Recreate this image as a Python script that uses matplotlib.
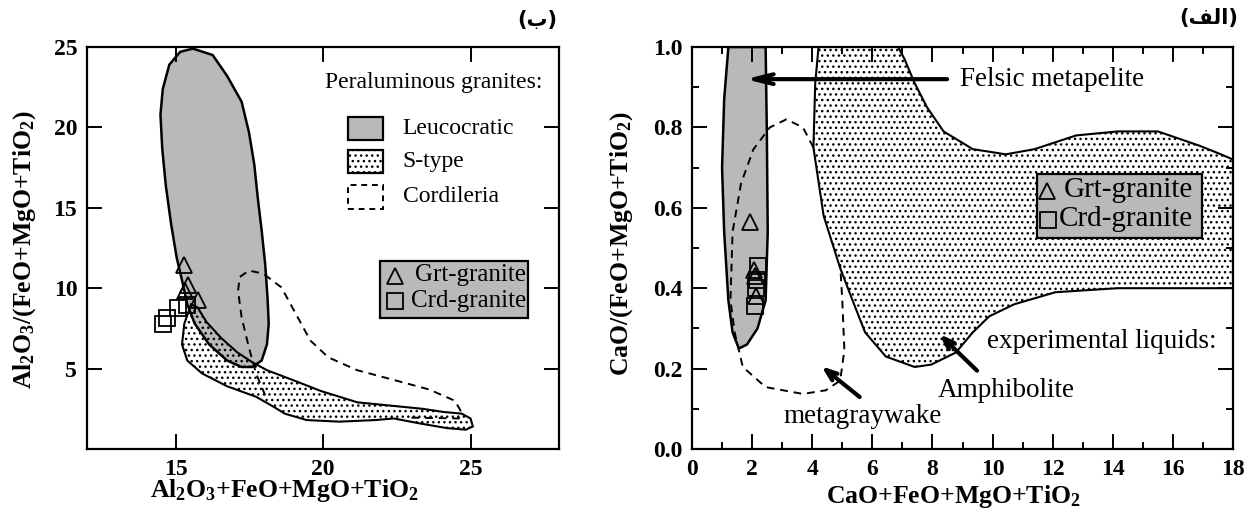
import numpy as np
import matplotlib
matplotlib.use('Agg')
from matplotlib import pyplot as plt
from matplotlib.patches import Polygon, Rectangle

plt.rcParams['font.family'] = ['Liberation Serif', 'DejaVu Sans']
plt.rcParams['mathtext.fontset'] = 'custom'
plt.rcParams['mathtext.rm'] = 'Liberation Serif:bold'
plt.rcParams['mathtext.bf'] = 'Liberation Serif:bold'
plt.rcParams['mathtext.it'] = 'Liberation Serif:bold'
plt.rcParams['hatch.linewidth'] = 1.0

GRAY = '#b9b9b9'

# ---------- panel (b): Al2O3 ----------
leuco_x = [15.59,16.26,16.75,17.24,17.49,17.67,17.79,17.92,18.04,18.12,18.16,18.10,17.92,17.60,17.24,16.75,16.14,15.65,15.40,15.22,15.04,14.85,14.67,14.55,14.49,14.57,14.79,15.16]
leuco_y = [24.9,24.5,23.2,21.6,19.7,17.7,15.6,13.6,11.5,9.4,7.8,6.5,5.5,5.1,5.1,5.5,6.5,7.8,9.0,10.5,11.9,14.0,16.4,18.7,20.8,22.4,23.9,24.7]

stype_x = [15.53,15.30,15.22,15.40,15.90,16.75,17.73,18.35,18.70,19.45,20.55,21.78,22.40,23.25,24.20,24.84,25.08,25.00,24.70,24.10,23.37,22.28,21.17,19.94,18.96,18.10,17.60,17.10,16.55,16.05,15.75]
stype_y = [9.0,7.8,6.5,5.5,4.7,3.9,3.25,2.6,2.2,1.8,1.7,1.8,1.9,1.6,1.3,1.2,1.4,1.9,2.2,2.3,2.5,2.7,2.9,3.6,4.3,4.9,5.4,6.0,6.9,7.9,8.8]

cord_x = [23.0,24.60,24.66,24.47,23.60,22.39,21.16,20.18,19.57,19.08,18.59,17.98,17.49,17.18,17.12,17.24,17.49,17.73,18.05]
cord_y = [1.95,1.9,2.4,3.0,3.7,4.3,4.9,5.7,6.75,8.4,10.05,10.9,11.1,10.7,9.85,8.2,6.3,4.7,3.3]

grt_b_x = [15.29,15.43,15.33,15.77]
grt_b_y = [11.44,10.2,9.8,9.27]
crd_b_x = [15.10,15.38,14.72,14.59]
crd_b_y = [8.75,8.95,8.13,7.75]

# ---------- panel (alef): CaO ----------
felsic_x = [1.21,1.07,1.00,1.07,1.21,1.35,1.56,1.83,2.18,2.45,2.52,2.49,2.45]
felsic_y = [1.0,0.87,0.70,0.54,0.37,0.29,0.25,0.26,0.30,0.37,0.54,0.79,1.0]

amph_x = [4.21,4.10,4.04,4.38,4.93,5.34,5.76,6.45,7.41,7.96,8.78,9.34,9.89,10.72,12.09,14.16,16.23,18.0,18.0,17.6,16.9,15.5,14.16,12.78,11.4,10.44,9.34,8.37,7.82,7.41,7.07,6.86]
amph_y = [1.0,0.91,0.75,0.58,0.45,0.37,0.29,0.23,0.204,0.21,0.24,0.29,0.33,0.36,0.39,0.40,0.40,0.40,0.72,0.733,0.754,0.79,0.79,0.78,0.746,0.733,0.746,0.79,0.85,0.91,0.97,1.0]

meta_x = [4.04,3.69,3.14,2.59,2.04,1.63,1.35,1.28,1.42,1.69,2.45,3.69,4.45,4.93,5.07,5.00,4.93]
meta_y = [0.75,0.80,0.82,0.80,0.745,0.66,0.54,0.37,0.29,0.204,0.154,0.137,0.146,0.17,0.246,0.37,0.46]

grt_a_x = [1.93,2.07,2.10,2.13]
grt_a_y = [0.565,0.445,0.43,0.38]
crd_a_x = [2.21,2.15,2.12,2.08]
crd_a_y = [0.455,0.42,0.40,0.355]

FS_L = 17      # text size, left panel
FS_R = 19.5    # text size, right panel

fig = plt.figure(figsize=(12.46, 5.17), dpi=100)
ax1 = fig.add_axes([87/1246, 1-449/517, 472/1246, 402/517])
ax2 = fig.add_axes([692/1246, 1-449/517, 541/1246, 402/517])

for ax in (ax1, ax2):
    for s in ax.spines.values():
        s.set_linewidth(1.6)
    ax.tick_params(which='both', direction='in', top=True, right=True,
                   width=1.4, labelsize=17, pad=7)
    ax.tick_params(which='major', length=11)
    ax.tick_params(which='minor', length=5)

mk = dict(linestyle='none', markerfacecolor='none', markeredgecolor='black',
          markeredgewidth=1.3, markersize=11, zorder=6)

# panel b
ax1.add_patch(Polygon(np.c_[leuco_x, leuco_y], closed=True, facecolor=GRAY,
                      edgecolor='none', zorder=1))
ax1.add_patch(Polygon(np.c_[stype_x, stype_y], closed=True, facecolor='none',
                      edgecolor='black', hatch='...', lw=1.5, zorder=2))
ax1.add_patch(Polygon(np.c_[leuco_x, leuco_y], closed=True, facecolor='none',
                      edgecolor='black', lw=1.8, zorder=3))
ax1.plot(cord_x, cord_y, color='black', lw=1.4, dashes=(4, 3), zorder=3)
ax1.plot(grt_b_x, grt_b_y, marker='^', **mk)
ax1.plot(crd_b_x, crd_b_y, marker='s', **mk)

ax1.text(20.06, 22.8, 'Peraluminous granites:', fontsize=FS_L, va='center')
ax1.add_patch(Rectangle((20.86, 19.23), 1.19, 1.44, facecolor=GRAY,
                        edgecolor='black', lw=1.6, zorder=5))
ax1.add_patch(Rectangle((20.86, 17.16), 1.19, 1.44, facecolor='white',
                        edgecolor='black', hatch='...', lw=1.6, zorder=5))
ax1.add_patch(Rectangle((20.86, 14.9), 1.19, 1.54, facecolor='none',
                        edgecolor='black', ls=(0, (3, 2.5)), lw=1.4, zorder=5))
ax1.text(22.7, 19.95, 'Leucocratic', fontsize=FS_L, va='center')
ax1.text(22.7, 17.9, 'S-type', fontsize=FS_L, va='center')
ax1.text(22.7, 15.7, 'Cordileria', fontsize=FS_L, va='center')

ax1.add_patch(Rectangle((21.94, 8.15), 5.01, 3.55, facecolor=GRAY,
                        edgecolor='black', lw=1.6, zorder=5))
ax1.plot([22.45], [10.77], marker='^', **mk)
ax1.plot([22.45], [9.19], marker='s', **mk)
ax1.text(23.12, 10.8, 'Grt-granite', fontsize=18, va='center', zorder=7)
ax1.text(23.0, 9.2, 'Crd-granite', fontsize=18, va='center', zorder=7)

ax1.set_xlim(12, 28)
ax1.set_ylim(0, 25)
ax1.set_xticks([15, 20, 25])
ax1.set_yticks([5, 10, 15, 20, 25])

# panel alef
ax2.add_patch(Polygon(np.c_[felsic_x, felsic_y], closed=True, facecolor=GRAY,
                      edgecolor='black', lw=1.8, zorder=1))
ax2.add_patch(Polygon(np.c_[amph_x, amph_y], closed=True, facecolor='none',
                      edgecolor='black', hatch='...', lw=1.5, zorder=2))
ax2.plot(meta_x, meta_y, color='black', lw=1.4, dashes=(4, 3), zorder=3)
ax2.plot(grt_a_x, grt_a_y, marker='^', **mk)
ax2.plot(crd_a_x, crd_a_y, marker='s', **mk)

ax2.annotate('', xy=(1.69, 0.92), xytext=(8.58, 0.92),
             arrowprops=dict(arrowstyle='->,head_length=1.4,head_width=0.35',
                             lw=3, color='black'), zorder=7)
ax2.text(8.93, 0.92, 'Felsic metapelite', fontsize=FS_R, va='center')
ax2.annotate('', xy=(8.17, 0.29), xytext=(9.55, 0.19),
             arrowprops=dict(arrowstyle='->,head_length=0.8,head_width=0.3',
                             lw=3, color='black'), zorder=7)
ax2.text(9.82, 0.267, 'experimental liquids:', fontsize=FS_R, va='center')
ax2.text(10.44, 0.146, 'Amphibolite', fontsize=FS_R, va='center', ha='center')
ax2.annotate('', xy=(4.24, 0.21), xytext=(5.65, 0.125),
             arrowprops=dict(arrowstyle='->,head_length=0.8,head_width=0.3',
                             lw=3, color='black'), zorder=7)
ax2.text(5.69, 0.08, 'metagraywake', fontsize=FS_R, va='center', ha='center')

ax2.add_patch(Rectangle((11.47, 0.525), 5.51, 0.158, facecolor=GRAY,
                        edgecolor='black', lw=1.6, zorder=5))
ax2.plot([11.82], [0.642], marker='^', **mk)
ax2.plot([11.85], [0.57], marker='s', **mk)
ax2.text(12.38, 0.645, 'Grt-granite', fontsize=21, va='center', zorder=7)
ax2.text(12.2, 0.572, 'Crd-granite', fontsize=21, va='center', zorder=7)

ax2.set_xlim(0, 18)
ax2.set_ylim(0, 1)
ax2.set_xticks(np.arange(0, 19, 2))
ax2.set_xticks(np.arange(0, 19, 1), minor=True)
ax2.set_yticks(np.arange(0, 1.01, 0.2))
ax2.set_yticks(np.arange(0, 1.01, 0.1), minor=True)
ax2.set_yticklabels(['%.1f' % v for v in np.arange(0, 1.01, 0.2)])

for ax in (ax1, ax2):
    for lab in ax.get_xticklabels() + ax.get_yticklabels():
        lab.set_fontweight('bold')

# axis titles
fig.text(284/1246, 1-491/517, r'Al$_{2}$O$_{3}$+FeO+MgO+TiO$_{2}$',
         fontsize=18.5, fontweight='bold', ha='center', va='center')
fig.text(25/1246, 1-250/517, r'Al$_{2}$O$_{3}$/(FeO+MgO+TiO$_{2}$)',
         fontsize=18.5, fontweight='bold', ha='center', va='center', rotation=90)
fig.text(953/1246, 1-496/517, r'CaO+FeO+MgO+TiO$_{2}$',
         fontsize=18.5, fontweight='bold', ha='center', va='center')
fig.text(622/1246, 1-244/517, r'CaO/(FeO+MgO+TiO$_{2}$)',
         fontsize=18.5, fontweight='bold', ha='center', va='center', rotation=90)

# panel tags (Arabic)
fig.text(557/1246, 1-20/517, '(\uFE8F)', fontsize=15, fontweight='bold',
         family=['DejaVu Sans'], ha='right', va='center')
fig.text(1238/1246, 1-18/517, '(\uFED2\uFEDF\uFE8D)', fontsize=15,
         fontweight='bold', family=['DejaVu Sans'], ha='right', va='center')

fig.savefig('out.png', dpi=100)
